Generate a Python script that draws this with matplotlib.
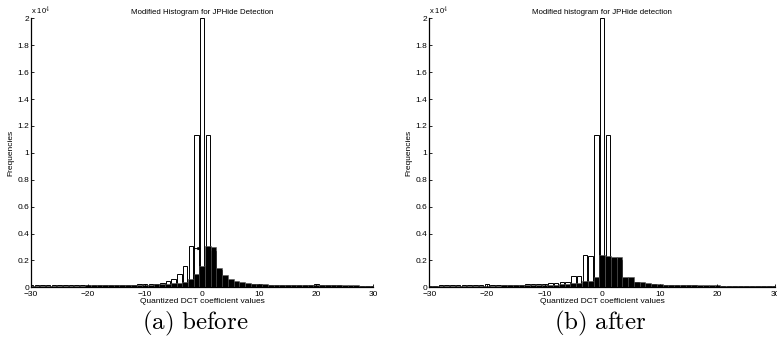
import numpy as np
import matplotlib.pyplot as plt

plt.rcParams['font.family'] = ['Liberation Sans', 'DejaVu Sans']
plt.rcParams['mathtext.fontset'] = 'cm'

# coefficient values -30..30
coef = np.arange(-30, 31)

# (a) before: original histogram (white) and modified histogram (black)
white_a = [140, 140, 145, 145, 150, 150, 150, 155, 155, 160, 160, 165, 165, 170, 175,
           180, 185, 190, 200, 210,
           225, 245, 280, 330, 440, 650, 990, 1600, 3100, 11300,
           20000,
           11300, 2700, 1300, 800, 560, 380, 320, 280, 240, 210,
           190, 175, 165, 160, 155, 150, 150, 145, 145, 240,
           140, 140, 138, 136, 134, 132, 130, 128, 126, 125]
black_a = [125, 125, 128, 128, 130, 130, 132, 132, 135, 135, 138, 140, 142, 145, 150,
           155, 160, 165, 170, 180,
           190, 200, 215, 235, 260, 300, 340, 410, 650, 1000,
           1620,
           3080, 3020, 1420, 900, 620, 440, 370, 320, 280, 245,
           220, 200, 185, 175, 168, 162, 158, 155, 152, 150,
           148, 146, 144, 142, 140, 138, 136, 134, 132, 130]

# (b) after
white_b = [135, 135, 138, 138, 140, 140, 142, 142, 145, 145,
           250, 150, 152, 155, 160,
           190, 190, 215, 210, 250,
           245, 300, 290, 420, 400, 850, 830, 2420, 2350, 11300,
           20000,
           11300, 2000, 2000, 700, 680, 360, 350, 260, 250, 180,
           170, 150, 145, 140, 138, 136, 134, 132, 130, 128,
           126, 124, 122, 120, 118, 116, 114, 112, 110, 108]
black_b = [120, 120, 120, 122, 122, 124, 124, 126, 128, 128, 130, 132, 134, 136, 140,
           145, 150, 155, 160, 170,
           180, 190, 200, 215, 230, 310, 330, 440, 460, 800,
           2380,
           2300, 2270, 2230, 800, 760, 410, 400, 290, 280, 210,
           205, 175, 170, 155, 150, 145, 142, 140, 138, 136,
           134, 132, 130, 128, 126, 124, 122, 120, 118, 116]

titles = ['Modified Histogram for JPHide Detection',
          'Modified histogram for JPHide detection']
captions = [r'$\mathrm{(a)\ before}$', r'$\mathrm{(b)\ after}$']

fig = plt.figure(figsize=(7.77, 3.47), dpi=100)
ax_a = fig.add_axes([0.040, 0.172, 0.4405, 0.775])
ax_b = fig.add_axes([0.5525, 0.172, 0.445, 0.775])

yticks = np.arange(0, 20001, 2000)
ylabels = ['0', '0.2', '0.4', '0.6', '0.8', '1', '1.2', '1.4', '1.6', '1.8', '2']

for ax, wv, bv, title in [(ax_a, white_a, black_a, titles[0]),
                          (ax_b, white_b, black_b, titles[1])]:
    ax.bar(coef, wv, width=0.8, color='white', edgecolor='black', linewidth=0.7)
    ax.bar(coef, bv, width=1.0, color='black', edgecolor='0.35', linewidth=0.4)
    ax.set_xlim(-30, 30)
    ax.set_ylim(0, 20000)
    ax.set_xticks(np.arange(-30, 31, 10))
    ax.set_xticklabels(['\u221230', '\u221220', '\u221210', '0', '10', '20', '30'])
    ax.set_yticks(yticks)
    ax.set_yticklabels(ylabels)
    ax.tick_params(direction='in', length=2.5, width=0.6, labelsize=6, pad=1.5)
    ax.tick_params(axis='x', pad=2.5)
    for s in ['top', 'right']:
        ax.spines[s].set_visible(False)
    for s in ['left', 'bottom']:
        ax.spines[s].set_linewidth(0.9)
    ax.set_title(title, fontsize=5.7, pad=3)
    ax.set_xlabel('Quantized DCT coefficient values', fontsize=6, labelpad=0.5)
    ax.set_ylabel('Frequencies', fontsize=6, labelpad=2)
    ax.text(0.0, 1.005, 'x 10$^{4}$', transform=ax.transAxes, fontsize=5.5,
            ha='left', va='bottom')

# shift arrow in (a)
ax_a.annotate('', xy=(0.3, 2880), xytext=(-1.9, 2880),
              arrowprops=dict(arrowstyle='-|>', color='black', lw=0.7,
                              mutation_scale=4))

fig.text(195 / 777, 1 - 323 / 347, captions[0], fontsize=18, ha='center', va='center')
fig.text(600 / 777, 1 - 323 / 347, captions[1], fontsize=18, ha='center', va='center')

fig.savefig('out.png', dpi=100)
